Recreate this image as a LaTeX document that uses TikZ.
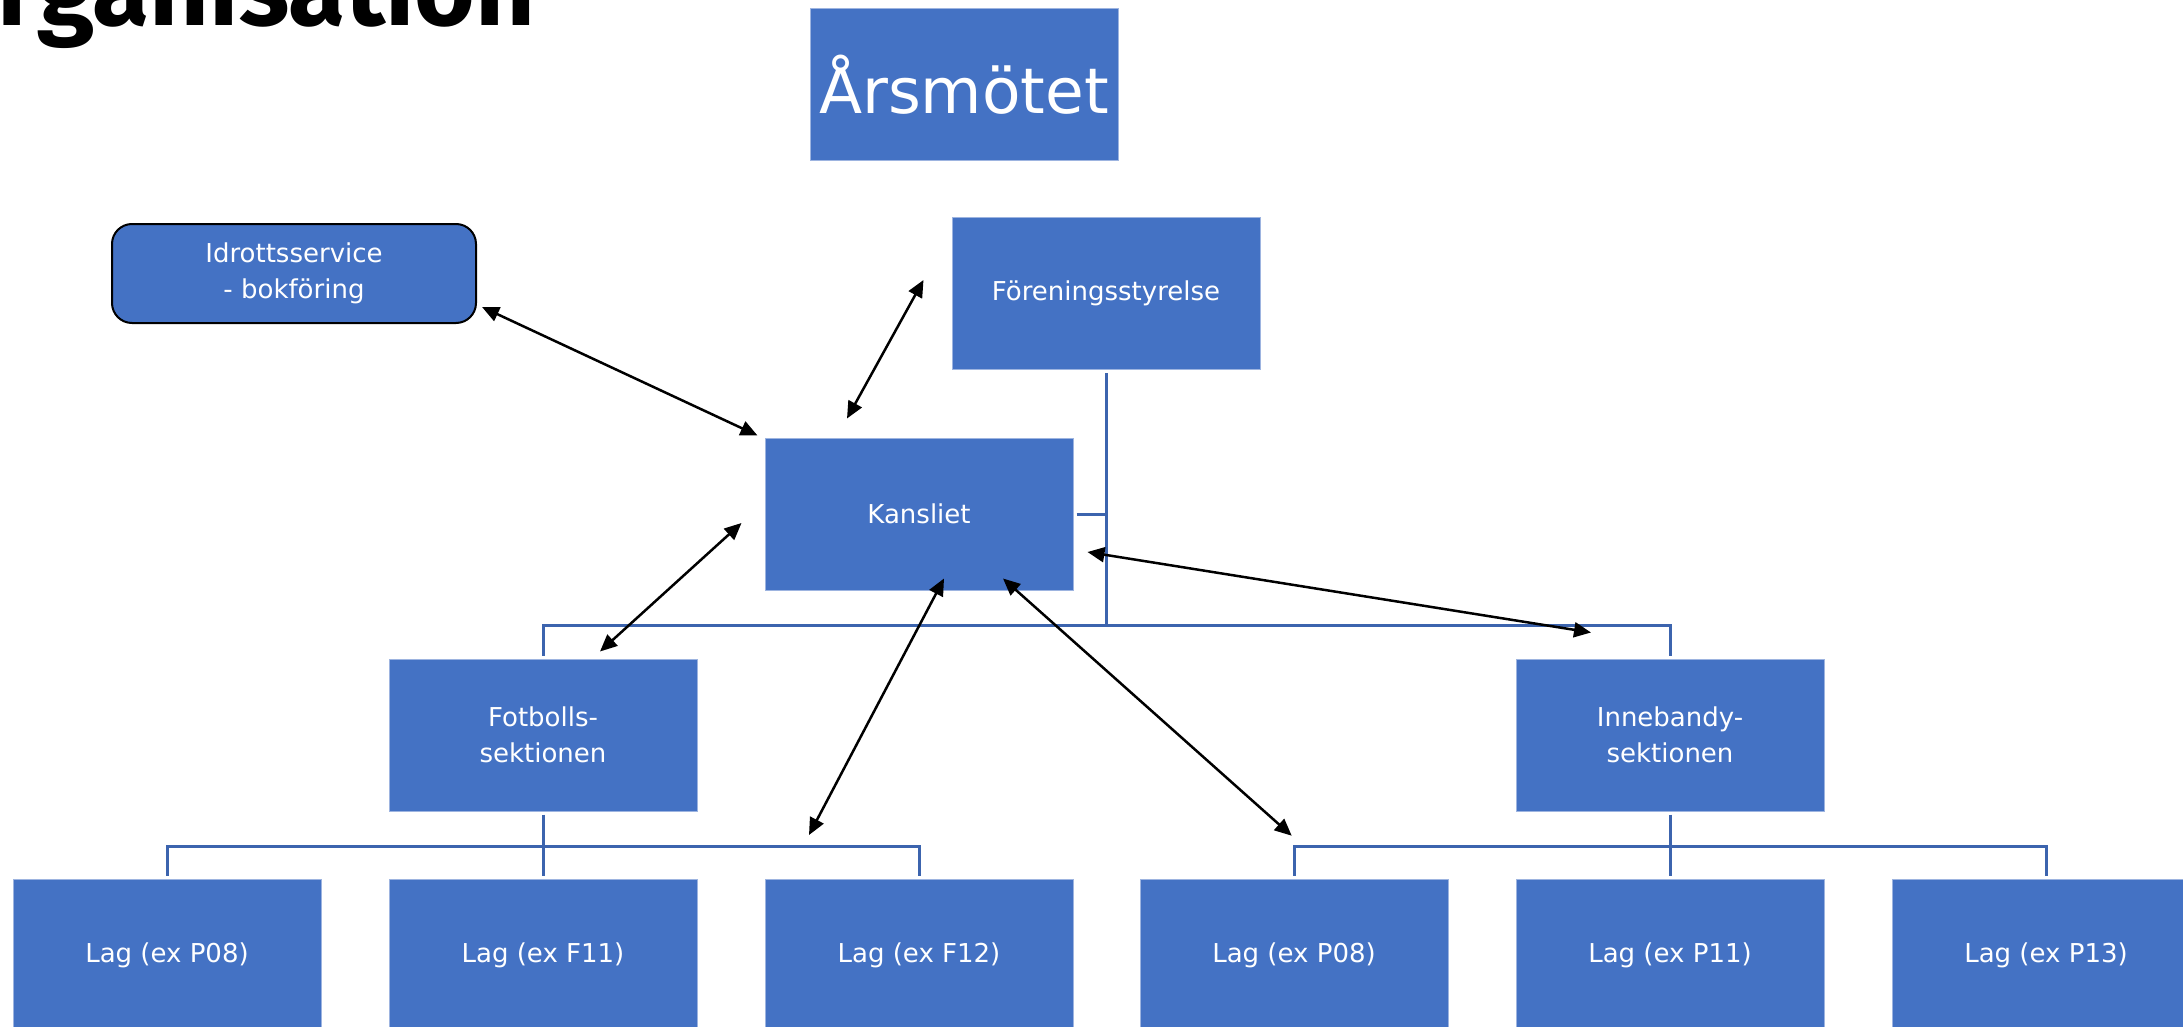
\documentclass[tikz,border=0pt]{standalone}
\usepackage{fontspec}
\setmainfont{DejaVu Sans}
\newfontfamily\titlefont{Fira Sans}
\usetikzlibrary{arrows.meta}
\definecolor{boxblue}{HTML}{4472C4}
\definecolor{boxedge}{HTML}{9DB4E0}
\definecolor{lineblue}{HTML}{3C64AE}
\tikzset{
	orgline/.style={draw=lineblue,line width=3pt},
	orgbox/.style={rectangle,fill=boxblue,draw=boxedge,line width=1pt,text=white,
		minimum width=308pt,minimum height=152pt,inner sep=0pt,align=center,
		font=\fontsize{26}{36}\selectfont}
}
\begin{document}
\begin{tikzpicture}[x=1pt,y=-1pt]
		\useasboundingbox (0,0) rectangle (2183,1027);
		\clip (0,0) rectangle (2183,1027);
		\node[anchor=base east,font=\titlefont\bfseries\fontsize{104}{114}\selectfont] (titel) at (539,26) {Organisation};
		\begin{scope}[every node/.style={orgbox}]
			\node[font=\fontsize{63}{70}\selectfont] (arsmote) at (964,84.5) {Årsmötet};
			\node[draw=black,line width=2pt,rounded corners=20pt,minimum width=364pt,minimum height=99pt] (idrott) at (294,273.5) {Idrottsservice\\- bokföring};
			\node (styrelse) at (1106,293.5) {Föreningsstyrelse};
			\node (kansli) at (919,514) {Kansliet};
			\node (fotboll) at (543,735) {Fotbolls-\\sektionen};
			\node (inneb) at (1670,735) {Innebandy-\\sektionen};
			\foreach \x/\lag [count=\i] in {167/P08,543/F11,919/F12,1294/P08,1670/P11,2046/P13}
				\node (lag\i) at (\x,955) {Lag (ex \lag)};
		\end{scope}
		\coordinate (busA) at (0,625);
		\coordinate (busB) at (0,846);
		\coordinate (fbuspil) at (809,835);
		\coordinate (ibuspil) at (1291.7,835.7);
		\draw[orgline] ([yshift=-3pt]styrelse.south) -- (styrelse.south |- busA);
		\draw[orgline] ([xshift=3pt]kansli.east) -- (kansli.east -| styrelse.south);
		\draw[orgline] ([yshift=3pt]fotboll.north) -- (fotboll.north |- busA) -- (inneb.north |- busA) -- ([yshift=3pt]inneb.north);
		\foreach \sek/\a/\b/\c in {fotboll/1/2/3,inneb/4/5/6} {
			\draw[orgline] ([yshift=-3pt]\sek.south) -- ([yshift=3pt]lag\b.north);
			\draw[orgline] ([yshift=3pt]lag\a.north) -- (lag\a.north |- busB) -- (lag\c.north |- busB) -- ([yshift=3pt]lag\c.north);
		}
		\begin{scope}[>={Triangle[length=17pt,width=15pt]},line width=2.5pt]
			\draw[<->] ([xshift=5pt,yshift=17pt]idrott.south east) -- ([xshift=-7pt,yshift=2pt]kansli.north west);
			\draw[<->] ([xshift=-28pt,yshift=13.5pt]styrelse.west) -- ([xshift=-72pt,yshift=19pt]kansli.north);
			\draw[<->] ([xshift=-23pt,yshift=-9pt]kansli.west) -- ([xshift=57pt,yshift=7pt]fotboll.north);
			\draw[<->] ([xshift=25pt,yshift=12pt]kansli.south) -- (fbuspil);
			\draw[<->] ([xshift=84pt,yshift=12pt]kansli.south) -- (ibuspil);
			\draw[<->] ([xshift=14pt,yshift=-38pt]kansli.east) -- ([xshift=-79pt,yshift=26pt]inneb.north);
		\end{scope}
	\end{tikzpicture}
\end{document}
